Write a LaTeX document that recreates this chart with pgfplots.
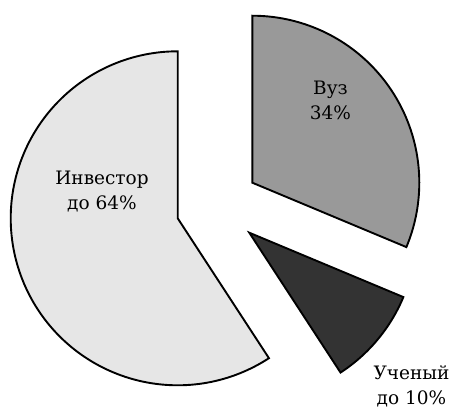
\documentclass[border=0pt]{standalone}
\usepackage{fontspec}
\setmainfont{DejaVu Serif}
\usepackage{pgfplots}
\pgfplotsset{compat=1.18}
\definecolor{invc}{RGB}{230,230,230}
\definecolor{vuzc}{RGB}{153,153,153}
\definecolor{uchc}{RGB}{51,51,51}
% shares of the full turn (percent), as drawn
\def\vuz{31.3}
\def\uch{9.5}
\def\inv{59.2}
\def\R{167}
\pgfmathsetmacro{\aA}{90}
\pgfmathsetmacro{\aB}{90-3.6*\vuz}
\pgfmathsetmacro{\aC}{\aB-3.6*\uch}
\pgfmathsetmacro{\aD}{\aC+360}
\begin{document}
\begin{tikzpicture}
\begin{axis}[scale only axis, width=452pt, height=408pt,
  xmin=0, xmax=452, ymin=0, ymax=408, hide axis, clip=false]
% Investor
\addplot[draw=black, line width=1.9pt, line join=miter, fill=invc,
  domain=\aA:\aD, samples=150, variable=\t]
  ({177.7+\R*cos(t)}, {189.7+\R*sin(t)}) -- (axis cs:177.7,189.7) -- cycle;
% Vuz
\addplot[draw=black, line width=1.9pt, line join=miter, fill=vuzc,
  domain=\aB:\aA, samples=100, variable=\t]
  ({252.3+\R*cos(t)}, {225.3+\R*sin(t)}) -- (axis cs:252.3,225.3) -- cycle;
% Uchenyj
\addplot[draw=black, line width=1.9pt, line join=miter, fill=uchc,
  domain=\aC:\aB, samples=40, variable=\t]
  ({249.3+\R*cos(t)}, {175.3+\R*sin(t)}) -- (axis cs:249.3,175.3) -- cycle;
\node[align=center, inner sep=0pt, font=\fontsize{18.5}{24.5}\selectfont]
  at (axis cs:102,216.5) {Инвестор\\до 64\%};
\node[align=center, inner sep=0pt, font=\fontsize{18.5}{24.5}\selectfont]
  at (axis cs:330.5,307.5) {Вуз\\34\%};
\node[align=center, inner sep=0pt, font=\fontsize{18.5}{24.5}\selectfont]
  at (axis cs:411.5,21.5) {Ученый\\до 10\%};
\end{axis}
\pgfresetboundingbox
\path (0,0) rectangle (452pt,408pt);
\end{tikzpicture}
\end{document}
